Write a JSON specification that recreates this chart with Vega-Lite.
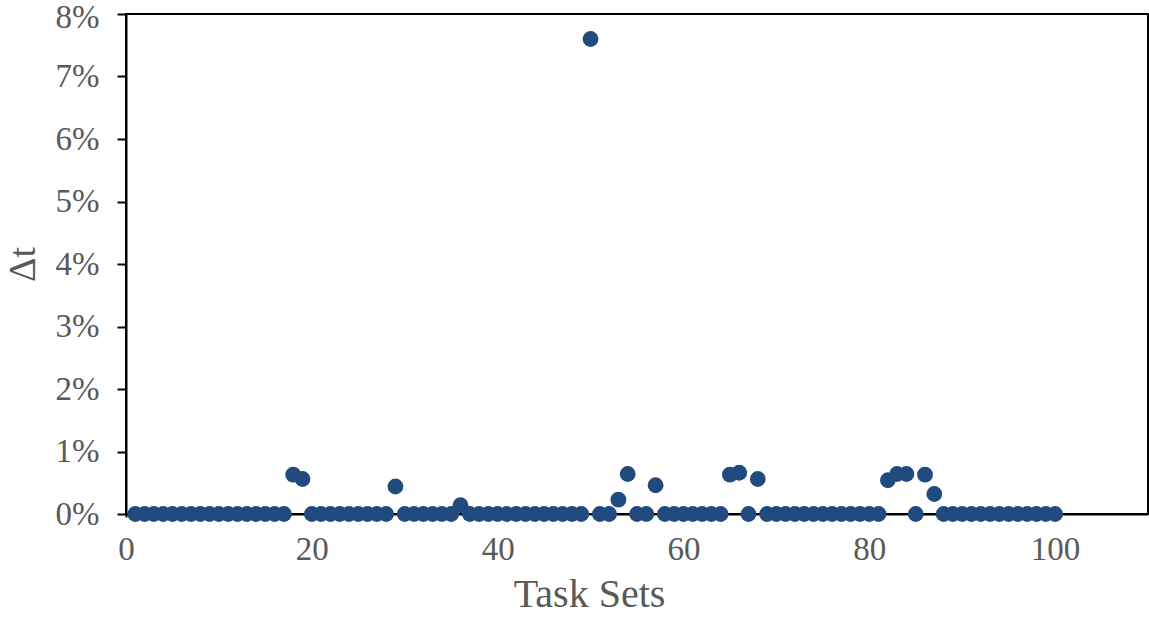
{
  "$schema": "https://vega.github.io/schema/vega-lite/v6.json",
  "width": 1022,
  "height": 500,
  "autosize": {"type": "none"},
  "padding": {"left": 126, "top": 14, "right": 1, "bottom": 103},
  "background": "white",
  "config": {
    "view": {"stroke": "black", "strokeWidth": 2},
    "font": "Liberation Serif"
  },
  "data": {
    "values": [
      {"task": 1, "dt": 0}, {"task": 2, "dt": 0}, {"task": 3, "dt": 0}, {"task": 4, "dt": 0}, {"task": 5, "dt": 0},
      {"task": 6, "dt": 0}, {"task": 7, "dt": 0}, {"task": 8, "dt": 0}, {"task": 9, "dt": 0}, {"task": 10, "dt": 0},
      {"task": 11, "dt": 0}, {"task": 12, "dt": 0}, {"task": 13, "dt": 0}, {"task": 14, "dt": 0}, {"task": 15, "dt": 0},
      {"task": 16, "dt": 0}, {"task": 17, "dt": 0}, {"task": 18, "dt": 0.0063}, {"task": 19, "dt": 0.0056}, {"task": 20, "dt": 0},
      {"task": 21, "dt": 0}, {"task": 22, "dt": 0}, {"task": 23, "dt": 0}, {"task": 24, "dt": 0}, {"task": 25, "dt": 0},
      {"task": 26, "dt": 0}, {"task": 27, "dt": 0}, {"task": 28, "dt": 0}, {"task": 29, "dt": 0.0044}, {"task": 30, "dt": 0},
      {"task": 31, "dt": 0}, {"task": 32, "dt": 0}, {"task": 33, "dt": 0}, {"task": 34, "dt": 0}, {"task": 35, "dt": 0},
      {"task": 36, "dt": 0.0014}, {"task": 37, "dt": 0}, {"task": 38, "dt": 0}, {"task": 39, "dt": 0}, {"task": 40, "dt": 0},
      {"task": 41, "dt": 0}, {"task": 42, "dt": 0}, {"task": 43, "dt": 0}, {"task": 44, "dt": 0}, {"task": 45, "dt": 0},
      {"task": 46, "dt": 0}, {"task": 47, "dt": 0}, {"task": 48, "dt": 0}, {"task": 49, "dt": 0}, {"task": 50, "dt": 0.076},
      {"task": 51, "dt": 0}, {"task": 52, "dt": 0}, {"task": 53, "dt": 0.0023}, {"task": 54, "dt": 0.0064}, {"task": 55, "dt": 0},
      {"task": 56, "dt": 0}, {"task": 57, "dt": 0.0046}, {"task": 58, "dt": 0}, {"task": 59, "dt": 0}, {"task": 60, "dt": 0},
      {"task": 61, "dt": 0}, {"task": 62, "dt": 0}, {"task": 63, "dt": 0}, {"task": 64, "dt": 0}, {"task": 65, "dt": 0.0063},
      {"task": 66, "dt": 0.0066}, {"task": 67, "dt": 0}, {"task": 68, "dt": 0.0056}, {"task": 69, "dt": 0}, {"task": 70, "dt": 0},
      {"task": 71, "dt": 0}, {"task": 72, "dt": 0}, {"task": 73, "dt": 0}, {"task": 74, "dt": 0}, {"task": 75, "dt": 0},
      {"task": 76, "dt": 0}, {"task": 77, "dt": 0}, {"task": 78, "dt": 0}, {"task": 79, "dt": 0}, {"task": 80, "dt": 0},
      {"task": 81, "dt": 0}, {"task": 82, "dt": 0.0054}, {"task": 83, "dt": 0.0064}, {"task": 84, "dt": 0.0064}, {"task": 85, "dt": 0},
      {"task": 86, "dt": 0.0063}, {"task": 87, "dt": 0.0032}, {"task": 88, "dt": 0}, {"task": 89, "dt": 0}, {"task": 90, "dt": 0},
      {"task": 91, "dt": 0}, {"task": 92, "dt": 0}, {"task": 93, "dt": 0}, {"task": 94, "dt": 0}, {"task": 95, "dt": 0},
      {"task": 96, "dt": 0}, {"task": 97, "dt": 0}, {"task": 98, "dt": 0}, {"task": 99, "dt": 0}, {"task": 100, "dt": 0}
    ]
  },
  "mark": {"type": "circle", "size": 250, "color": "#214A7E", "opacity": 1, "clip": false},
  "encoding": {
    "x": {
      "field": "task",
      "type": "quantitative",
      "scale": {"domain": [0, 110], "nice": false, "zero": false},
      "axis": {
        "title": "Task Sets",
        "titleX": 463,
        "titleAnchor": "middle",
        "values": [0, 20, 40, 60, 80, 100],
        "grid": false,
        "domainColor": "black",
        "domainWidth": 2,
        "tickColor": "black",
        "tickWidth": 2,
        "tickSize": 3,
        "labelFont": "Liberation Serif",
        "labelFontSize": 33,
        "labelColor": "#595959",
        "labelPadding": 16,
        "labelFlush": false,
        "titleFont": "Liberation Serif",
        "titleFontSize": 40,
        "titleFontWeight": "normal",
        "titleColor": "#595959",
        "titlePadding": 8
      }
    },
    "y": {
      "field": "dt",
      "type": "quantitative",
      "scale": {"domain": [0, 0.08], "nice": false},
      "axis": {
        "title": "Δt",
        "values": [0, 0.01, 0.02, 0.03, 0.04, 0.05, 0.06, 0.07, 0.08],
        "format": ".0%",
        "grid": false,
        "domainColor": "black",
        "domainWidth": 2,
        "tickColor": "black",
        "tickWidth": 2,
        "tickSize": 9,
        "labelFont": "Liberation Serif",
        "labelFontSize": 33,
        "labelColor": "#595959",
        "labelPadding": 18,
        "labelFlush": false,
        "labelOffset": {"condition": {"test": "datum.value > 0.075", "value": 3}, "value": 0},
        "titleFont": "Liberation Serif",
        "titleFontSize": 38,
        "titleFontWeight": "normal",
        "titleColor": "#595959",
        "titlePadding": 13
      }
    }
  }
}
